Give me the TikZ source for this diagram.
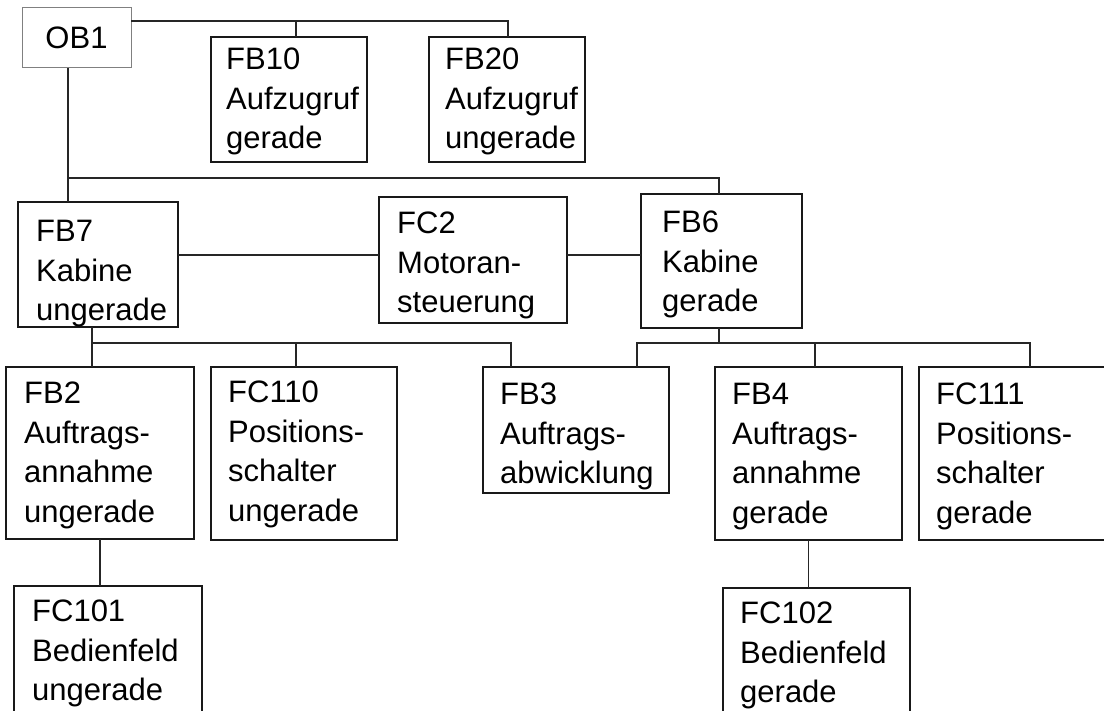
\documentclass[tikz,border=0pt]{standalone}
\usepackage{fontspec}
\setmainfont{Liberation Sans}

\begin{document}
\begin{tikzpicture}[
    x=1pt, y=-1pt,
    block/.style={draw=black!90, line width=1.5pt, inner sep=0pt, outer sep=0pt, anchor=north west},
    txt/.style={inner sep=0pt, anchor=north west, align=left, font=\fontsize{31}{39.5}\selectfont},
    conn/.style={draw=black!85, line width=1.2pt}
]

\useasboundingbox (0,0) rectangle (1104,711);
\clip (0,0) rectangle (1104,711);

% 第一层
\node[block, draw=black!50, line width=1pt, minimum width=109pt, minimum height=60pt,
      font=\fontsize{31}{39.5}\selectfont] (ob1) at (22,8) {OB1};
\node[block, minimum width=156pt, minimum height=125pt] (fb10) at (211,37) {};
\node[block, minimum width=156pt, minimum height=125pt] (fb20) at (429,37) {};

% 第二层
\node[block, minimum width=160pt, minimum height=125pt] (fb7) at (18,202) {};
\node[block, minimum width=188pt, minimum height=126pt] (fc2) at (379,197) {};
\node[block, minimum width=161pt, minimum height=134pt] (fb6) at (641,194) {};

% 第三层
\node[block, minimum width=188pt, minimum height=172pt] (fb2)   at (6,367)   {};
\node[block, minimum width=186pt, minimum height=173pt] (fc110) at (211,367) {};
\node[block, minimum width=186pt, minimum height=126pt] (fb3)   at (483,367) {};
\node[block, minimum width=187pt, minimum height=173pt] (fb4)   at (715,367) {};
\node[block, minimum width=200pt, minimum height=173pt] (fc111) at (919,367) {}; % 右边被裁掉

% 第四层（下边被裁掉）
\node[block, minimum width=188pt, minimum height=150pt] (fc101) at (14,586)  {};
\node[block, minimum width=187pt, minimum height=150pt] (fc102) at (723,588) {};

% 文字
\node[txt] (fb10t)  at ([shift={(15,11)}]fb10.north west)  {FB10\\Aufzugruf\\gerade};
\node[txt] (fb20t)  at ([shift={(16,11)}]fb20.north west)  {FB20\\Aufzugruf\\ungerade};
\node[txt] (fb7t)   at ([shift={(18,18)}]fb7.north west)   {FB7\\Kabine\\ungerade};
\node[txt] (fc2t)   at ([shift={(18,15)}]fc2.north west)   {FC2\\Motoran-\\steuerung};
\node[txt] (fb6t)   at ([shift={(21,17)}]fb6.north west)   {FB6\\Kabine\\gerade};
\node[txt] (fb2t)   at ([shift={(18,15)}]fb2.north west)   {FB2\\Auftrags-\\annahme\\ungerade};
\node[txt] (fc110t) at ([shift={(17,14)}]fc110.north west) {FC110\\Positions-\\schalter\\ungerade};
\node[txt] (fb3t)   at ([shift={(17,16)}]fb3.north west)   {FB3\\Auftrags-\\abwicklung};
\node[txt] (fb4t)   at ([shift={(17,16)}]fb4.north west)   {FB4\\Auftrags-\\annahme\\gerade};
\node[txt] (fc111t) at ([shift={(17,16)}]fc111.north west) {FC111\\Positions-\\schalter\\gerade};
\node[txt] (fc101t) at ([shift={(18,14)}]fc101.north west) {FC101\\Bedienfeld\\ungerade};
\node[txt] (fc102t) at ([shift={(17,14)}]fc102.north west) {FC102\\Bedienfeld\\gerade};

% OB1 -> FB10, FB20
\coordinate (t1) at (296,21);
\coordinate (t2) at (508,21);
\draw[conn] (ob1.east |- t1) -- (t2) -- (t2 |- fb20.north);
\draw[conn] (t1) -- (t1 |- fb10.north);

% OB1 -> FB7, FB6
\coordinate (m0) at (68,178);
\coordinate (m1) at (719,178);
\draw[conn] (m0 |- ob1.south) -- (m0 |- fb7.north);
\draw[conn] (m0) -- (m1) -- (m1 |- fb6.north);

% FB7 - FC2 - FB6
\coordinate (h) at (0,255);
\draw[conn] (fb7.east |- h) -- (fc2.west |- h);
\draw[conn] (fc2.east |- h) -- (fb6.west |- h);

% FB7 -> FB2, FC110, FB3
\coordinate (l0) at (92,343);
\coordinate (l1) at (296,343);
\coordinate (l2) at (511,343);
\draw[conn] (l0 |- fb7.south) -- (l0 |- fb2.north);
\draw[conn] (l0) -- (l2) -- (l2 |- fb3.north);
\draw[conn] (l1) -- (l1 |- fc110.north);

% FB6 -> FB3, FB4, FC111
\coordinate (r0) at (719,343);
\coordinate (r1) at (637,343);
\coordinate (r2) at (815,343);
\coordinate (r3) at (1030,343);
\draw[conn] (r0 |- fb6.south) -- (r0);
\draw[conn] (r1 |- fb3.north) -- (r1) -- (r3) -- (r3 |- fc111.north);
\draw[conn] (r2) -- (r2 |- fb4.north);

% FB2 -> FC101, FB4 -> FC102
\draw[conn] (fb2.south) -- (fb2.south |- fc101.north);
\draw[conn] (fb4.south) -- (fb4.south |- fc102.north);

\end{tikzpicture}
\end{document}
